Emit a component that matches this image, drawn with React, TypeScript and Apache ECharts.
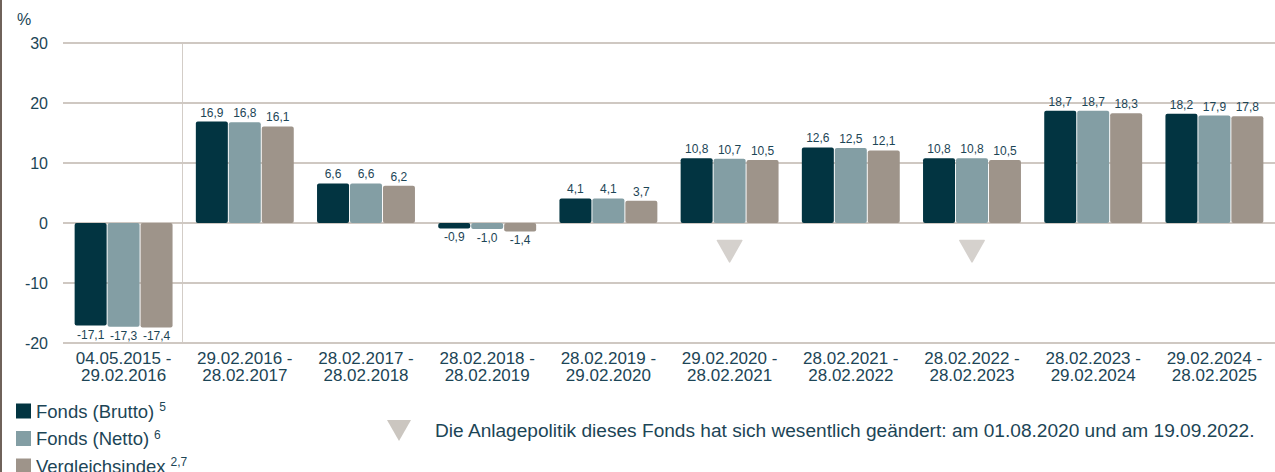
import React, { useEffect, useRef } from "react";
import * as echarts from "echarts";

const categories = [
  "04.05.2015 -\n29.02.2016",
  "29.02.2016 -\n28.02.2017",
  "28.02.2017 -\n28.02.2018",
  "28.02.2018 -\n28.02.2019",
  "28.02.2019 -\n29.02.2020",
  "29.02.2020 -\n28.02.2021",
  "28.02.2021 -\n28.02.2022",
  "28.02.2022 -\n28.02.2023",
  "28.02.2023 -\n29.02.2024",
  "29.02.2024 -\n28.02.2025",
];

const fondsBrutto = [-17.1, 16.9, 6.6, -0.9, 4.1, 10.8, 12.6, 10.8, 18.7, 18.2];
const fondsNetto = [-17.3, 16.8, 6.6, -1.0, 4.1, 10.7, 12.5, 10.8, 18.7, 17.9];
const vergleichsindex = [-17.4, 16.1, 6.2, -1.4, 3.7, 10.5, 12.1, 10.5, 18.3, 17.8];

const seriesNames = ["Fonds (Brutto)", "Fonds (Netto)", "Vergleichsindex"];
const seriesSup = ["5", "6", "2,7"];
const changeMarkerCategories = [categories[5], categories[7]];
const changeMarkerLevel = -4.7;
const footnote =
  "Die Anlagepolitik dieses Fonds hat sich wesentlich geändert: am 01.08.2020 und am 19.09.2022.";

const TEXT = "#1c4556";
const COLORS = ["#023441", "#839ea4", "#9e948a"];
const FONT = "Liberation Sans";

const fmt = (v: number) => v.toFixed(1).replace(".", ",");

export default function App() {
  const ref = useRef<HTMLDivElement>(null);
  useEffect(() => {
    document.body.style.margin = "0";
    const chart = echarts.init(ref.current!, undefined, { renderer: "svg" });
    const mkBar = (name: string, values: number[], color: string) => ({
      name,
      type: "bar",
      barWidth: 32,
      barGap: "3%",
      itemStyle: { color, borderRadius: 2 },
      label: {
        show: true,
        fontSize: 12,
        color: TEXT,
        fontFamily: FONT,
        distance: 3,
        formatter: (p: any) => fmt(p.value),
      },
      data: values.map((v) => ({
        value: v,
        label: { position: v < 0 ? "bottom" : "top" },
      })),
    });
    chart.setOption({
      animation: false,
      textStyle: { fontFamily: FONT },
      grid: { left: 63, right: -8, top: 43, bottom: 129, containLabel: false },
      xAxis: {
        type: "category",
        data: categories,
        axisLine: { show: false },
        axisTick: { show: false },
        axisLabel: {
          interval: 0,
          color: TEXT,
          fontSize: 17,
          lineHeight: 17,
          margin: 7,
          fontFamily: FONT,
        },
        splitLine: { show: false },
      },
      yAxis: {
        type: "value",
        min: -20,
        max: 30,
        interval: 10,
        axisLine: { show: false },
        axisTick: { show: false },
        axisLabel: { color: TEXT, fontSize: 16, margin: 15, fontFamily: FONT },
        splitLine: { lineStyle: { color: "#cfc8c2", width: 2 } },
      },
      legend: {
        orient: "vertical",
        left: 16,
        top: 401,
        height: 90,
        padding: 0,
        itemWidth: 15,
        itemHeight: 15,
        itemGap: 8,
        icon: "rect",
        data: seriesNames,
        formatter: (name: string) => {
          const i = seriesNames.indexOf(name);
          return `{n|${name}} {s|${seriesSup[i]}}`;
        },
        textStyle: {
          color: TEXT,
          fontFamily: FONT,
          fontSize: 18,
          lineHeight: 18,
          rich: {
            n: { fontSize: 18.5, lineHeight: 18, color: TEXT, fontFamily: FONT },
            s: { fontSize: 12, color: TEXT, fontFamily: FONT, padding: [0, 0, 8, 0] },
          },
        },
      },
      series: [
        mkBar(seriesNames[0], fondsBrutto, COLORS[0]),
        mkBar(seriesNames[1], fondsNetto, COLORS[1]),
        mkBar(seriesNames[2], vergleichsindex, COLORS[2]),
        {
          name: "Anlagepolitik",
          type: "scatter",
          symbol: "path://M1,0L19,0Q20,0 19.4,1L10.6,17Q10,18 9.4,17L0.6,1Q0,0 1,0Z",
          symbolSize: [26, 23],
          itemStyle: { color: "#cbc6c0" },
          silent: true,
          data: changeMarkerCategories.map((c) => [c, changeMarkerLevel]),
        },
      ],
      graphic: [
        {
          type: "line",
          shape: { x1: 1, y1: 0, x2: 1, y2: 472 },
          style: { stroke: "#6f625a", lineWidth: 2 },
        },
        {
          type: "text",
          left: 17,
          top: 11,
          style: { text: "%", fontSize: 16, fill: TEXT, fontFamily: FONT },
        },
        {
          type: "polygon",
          shape: { points: [[387, 420], [411, 420], [399, 441]] },
          style: { fill: "#cbc6c0" },
        },
        {
          type: "text",
          x: 435,
          y: 430,
          style: {
            text: footnote,
            fontSize: 19.1,
            fill: TEXT,
            fontFamily: FONT,
            verticalAlign: "middle",
          },
        },
      ],
    });
    // separator between the first (partial) period and the rest, at the category boundary
    const c0 = chart.convertToPixel({ gridIndex: 0 }, [0, 30]) as number[];
    const c1 = chart.convertToPixel({ gridIndex: 0 }, [1, -20]) as number[];
    const bx = Math.round((c0[0] + c1[0]) / 2) - 1.5;
    chart.setOption({
      graphic: [
        {
          id: "sep",
          type: "line",
          shape: { x1: bx, y1: c0[1], x2: bx, y2: c1[1] },
          style: { stroke: "#d3cdc7", lineWidth: 1 },
          z: -1,
        },
      ],
    });
    return () => chart.dispose();
  }, []);
  return <div ref={ref} style={{ width: 1275, height: 472 }} />;
}
